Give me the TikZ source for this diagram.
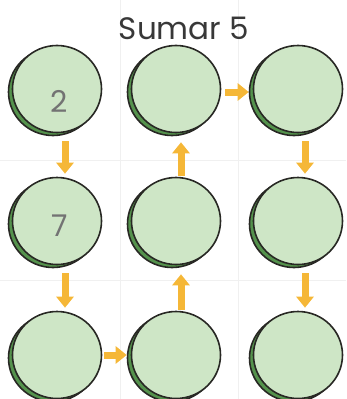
\documentclass[tikz,border=0pt]{standalone}
\usepackage{fontspec}
\setmainfont{Poppins}
\usepackage{tikz}
\usetikzlibrary{shapes.geometric,arrows.meta,positioning,shadows}
\definecolor{leaf}{RGB}{206,230,198}
\definecolor{leafdark}{RGB}{84,146,76}
\definecolor{ink}{RGB}{40,40,36}
\definecolor{sun}{RGB}{245,183,55}

\begin{document}
\begin{tikzpicture}[x=1pt,y=-1pt,
  disc/.style={ellipse,draw=ink,line width=1.6pt,fill=leaf,
               minimum width=89pt,minimum height=87pt,
               copy shadow={shadow xshift=-4pt,shadow yshift=-3pt,fill=leafdark,draw=ink,line width=1.6pt}},
  arr/.style={-{Triangle[length=11pt,width=17pt]},line width=7pt,color=sun},
  digit/.style={font=\fontsize{30}{30}\selectfont,text=black!55}
]
  \useasboundingbox (0,0) rectangle (346,399);
  \draw[black!6,line width=0.8pt] (120,0) -- (120,399) (238,0) -- (238,399)
                                  (0,160) -- (346,160) (0,280) -- (346,280);

  \node[font=\fontsize{31}{36}\selectfont,text=black!78] (title) at (184,28) {Sumar 5};

% ---------------- grid of discs ----------------
  \node[disc] (a1) at (57,89)  {};
  \node[disc] (a2) at (176,89) {};
  \node[disc] (a3) at (298,89) {};
  \node[disc] (b1) at (57,221)  {};
  \node[disc] (b2) at (176,221) {};
  \node[disc] (b3) at (298,221) {};
  \node[disc] (c1) at (57,355)  {};
  \node[disc] (c2) at (176,355) {};
  \node[disc] (c3) at (298,355) {};

  \node[digit] (n2) at (59,101) {2};
  \node[digit] (n7) at (60,226) {7};

  \draw[arr,shorten <=8pt,shorten >=3pt] ([xshift=8pt]a1.south) -- ([xshift=8pt]b1.north);
  \draw[arr,shorten <=8pt,shorten >=3pt] ([xshift=8pt]b1.south) -- ([xshift=8pt]c1.north);
  \draw[arr,shorten <=2pt,shorten >=4pt] (c1.east) -- (c2.west);
  \draw[arr,shorten <=1pt,shorten >=9pt] ([xshift=5pt]c2.north) -- ([xshift=5pt]b2.south);
  \draw[arr,shorten <=1pt,shorten >=9pt] ([xshift=5pt]b2.north) -- ([xshift=5pt]a2.south);
  \draw[arr,shorten <=4pt,shorten >=4pt] ([yshift=-3pt]a2.east) -- ([yshift=-3pt]a3.west);
  \draw[arr,shorten <=8pt,shorten >=3pt] ([xshift=7pt]a3.south) -- ([xshift=7pt]b3.north);
  \draw[arr,shorten <=8pt,shorten >=3pt] ([xshift=7pt]b3.south) -- ([xshift=7pt]c3.north);
\end{tikzpicture}
\end{document}
